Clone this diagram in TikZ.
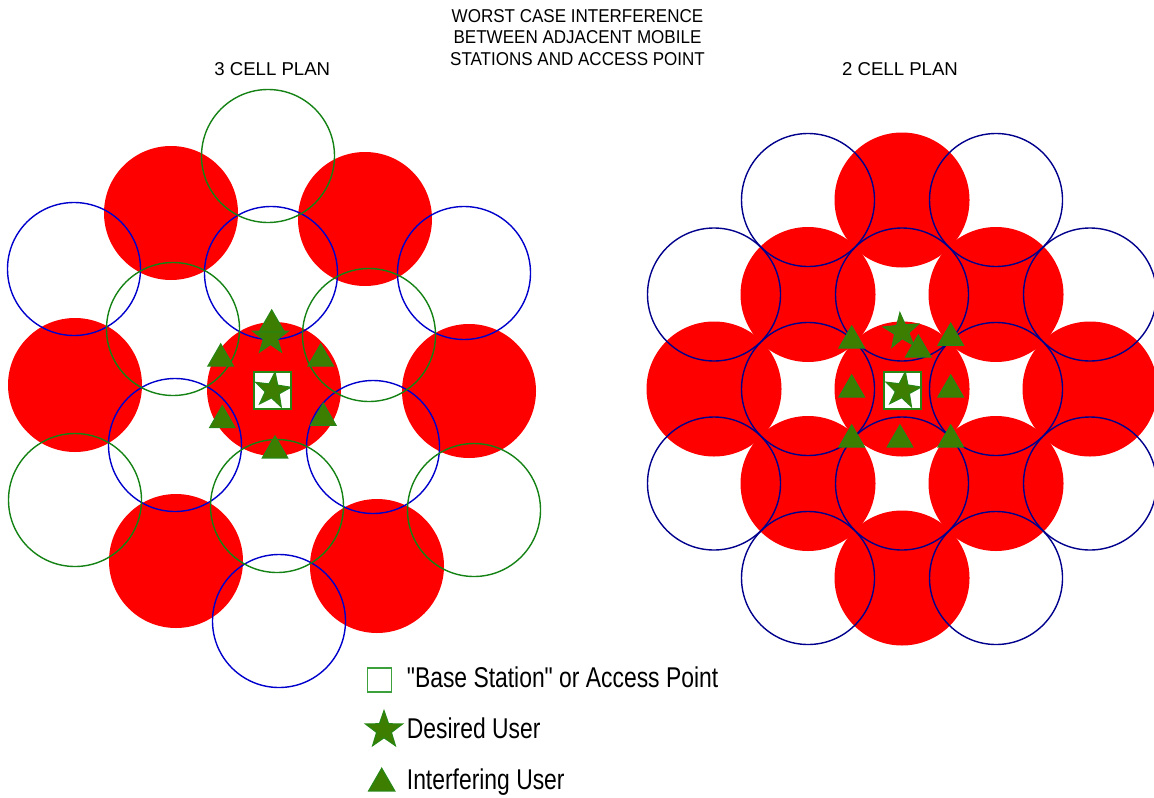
\documentclass[tikz,border=0pt]{standalone}
\usepackage{fontspec}
\setmainfont{Liberation Sans}
\newfontfamily\titlefont[FakeStretch=0.915]{Liberation Sans}
\newfontfamily\legendfont[FakeStretch=0.8]{Liberation Sans}
\usetikzlibrary{shapes.geometric}

\definecolor{cellred}{RGB}{255,0,0}
\definecolor{cellblue}{RGB}{0,0,204}
\definecolor{cellnavy}{RGB}{0,0,140}
\definecolor{cellgreen}{RGB}{20,130,20}
\definecolor{userfill}{RGB}{61,125,0}
\definecolor{userdraw}{RGB}{40,135,20}
\definecolor{keygreen}{RGB}{60,160,60}

\tikzset{
  ring/.style={line width=0.7pt},
  basestation/.style={rectangle, draw=userdraw, fill=white, line width=1pt, inner sep=0pt, minimum size=18.5pt},
  desired/.style={star, star points=5, star point ratio=2.5, fill=userfill, draw=userdraw, line width=0.6pt, inner sep=0pt, minimum size=18.5pt},
  interferer/.style={regular polygon, regular polygon sides=3, fill=userfill, draw=userdraw, line width=0.6pt, inner sep=0pt, minimum size=14.6pt},
  headline/.style={font=\titlefont\fontsize{9.3}{10.85}\selectfont, anchor=base, inner sep=0pt},
  planlabel/.style={font=\fontsize{9.3}{11}\selectfont, anchor=base, inner sep=0pt},
  keytext/.style={font=\legendfont\fontsize{14.3}{16}\selectfont, anchor=base west, inner sep=0pt}
}

\begin{document}
\begin{tikzpicture}[x=0.5pt, y=-0.5pt]
\useasboundingbox (0,0) rectangle (1154,797);

% headings
\node[headline] (head1) at (577.5,22.3) {WORST CASE INTERFERENCE};
\node[headline] (head2) at (577.5,44) {BETWEEN ADJACENT MOBILE};
\node[headline] (head3) at (577.5,65.7) {STATIONS AND ACCESS POINT};
\node[planlabel] (plan3) at (272.3,75.7) {3 CELL PLAN};
\node[planlabel] (plan2) at (900,75.7) {2 CELL PLAN};

% 3 cell plan
\foreach \px/\py in {274/389, 171/213, 365/219, 75/385, 469/391, 176/561, 377/566}
  \fill[cellred] (\px,\py) circle[radius=67];
\foreach \px/\py in {74/269, 271/273, 464/273, 175/445, 373/447, 279/621}
  \draw[ring, cellblue] (\px,\py) circle[radius=66.5];
\foreach \px/\py in {268/156, 173/329, 369/335, 75/500, 277/506, 474/510}
  \draw[ring, cellgreen] (\px,\py) circle[radius=66.5];

% 2 cell plan: checkerboard of cells
\foreach \c in {-2,...,2} {
  \foreach \r in {-2,...,2} {
    \pgfmathtruncatemacro{\hop}{abs(\c)+abs(\r)}
    \pgfmathtruncatemacro{\parity}{mod(\c+\r+4,2)}
    \ifnum\hop<4 \ifnum\parity=0
      \fill[cellred] ({902+94*\c},{389+94.5*\r}) circle[radius=67.5];
    \fi\fi
  }
}
\foreach \c in {-2,...,2} {
  \foreach \r in {-2,...,2} {
    \pgfmathtruncatemacro{\hop}{abs(\c)+abs(\r)}
    \pgfmathtruncatemacro{\parity}{mod(\c+\r+4,2)}
    \ifnum\hop<4 \ifnum\parity=1
      \draw[ring, cellnavy] ({902+94*\c},{389+94.5*\r}) circle[radius=66.5];
    \fi\fi
  }
}

% users, 3 cell plan
\node[basestation] (bsL) at (272.5,390.5) {};
\node[desired, rotate=-8] (duL0) at (bsL) {};
\node[desired] (duL1) at (270.5,337) {};
\foreach \tx/\ty [count=\i] in {271.7/324.6, 220.7/358.6, 320.7/358.6, 222.3/420.3, 323.3/417.9, 275/450.6}
  \node[interferer] (iuL\i) at (\tx,\ty) {};

% users, 2 cell plan
\node[basestation] (bsR) at (902.7,390.3) {};
\node[desired, rotate=-8] (duR0) at (bsR) {};
\node[desired, rotate=5] (duR1) at (901.5,331.2) {};
\foreach \tx/\ty [count=\i] in {918.3/349.6, 851.7/340.6, 950.7/337.9, 851.7/389.6, 950.7/389.6, 851.7/439.6, 900/439.6, 950.7/439.6}
  \node[interferer] (iuR\i) at (\tx,\ty) {};

% legend
\node[basestation, draw=keygreen, line width=0.75pt, minimum size=12.2pt] (keyBS) at (379.5,680) {};
\node[keytext] (keyBStext) at (406.5,687.5) {"Base Station" or Access Point};
\node[desired, minimum size=19.3pt] (keyDU) at (384,730) {};
\node[keytext] (keyDUtext) at (406.5,738.5) {Desired User};
\node[interferer, minimum size=15.1pt] (keyIU) at (381.7,783.4) {};
\node[keytext] (keyIUtext) at (406.5,789) {Interfering User};
\end{tikzpicture}
\end{document}
